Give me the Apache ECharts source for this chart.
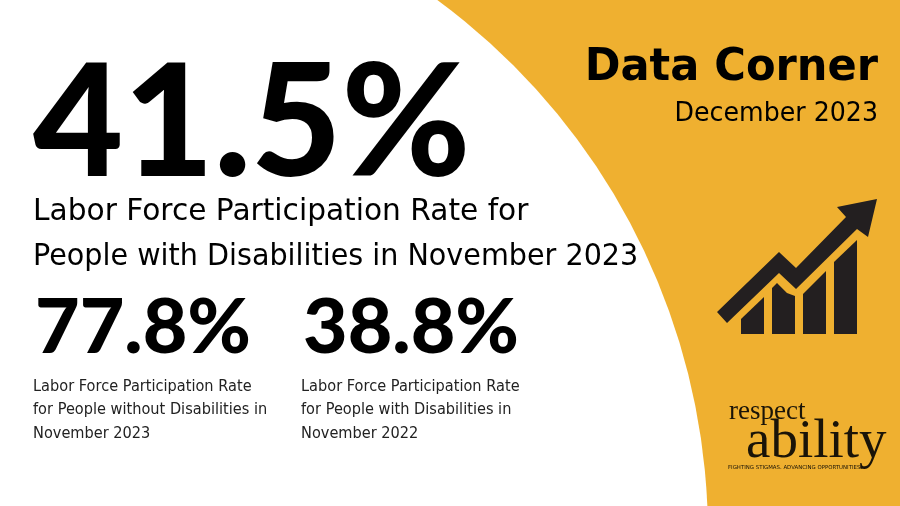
<!DOCTYPE html>
<html lang="en">
<head>
    <meta charset="UTF-8">
    <title>Data Corner December 2023</title>
    <script src="https://cdn.jsdelivr.net/npm/echarts@6/dist/echarts.min.js"></script>
    <style>
        html, body { margin: 0; padding: 0; background: #fff; }
    </style>
</head>
<body>
<div id="my" style="width: 900px;height: 506px;"></div>
<script>
    // values
    var headline = '41.5%'
    var headlineLabel = ['Labor Force Participation Rate for', 'People with Disabilities in November 2023']
    var statValues = ['77.8%', '38.8%']
    var statLabels = [
        ['Labor Force Participation Rate', 'for People without Disabilities in', 'November 2023'],
        ['Labor Force Participation Rate', 'for People with Disabilities in', 'November 2022']
    ]
    var cornerTitle = 'Data Corner'
    var cornerDate = 'December 2023'

    var FONT = '"DejaVu Sans"'
    var NUM_FONT = 'Lato'
    var SERIF = '"Liberation Serif"'
    var YELLOW = '#EFB030'
    var ICON = '#231F20'
    var LOGO = '#1a1408'

    function txt(s, x, y, size, opt) {
        opt = opt || {}
        return {
            type: 'text',
            x: x,
            y: y,
            scaleX: opt.sx || 1,
            style: {
                text: s,
                fontFamily: opt.font || FONT,
                fontSize: size,
                fontWeight: opt.weight || 'normal',
                fill: opt.color || '#000',
                align: opt.align || 'left',
                verticalAlign: 'middle'
            }
        }
    }
    function poly(points) {
        return { type: 'polygon', shape: { points: points }, style: { fill: ICON } }
    }

    var els = [
        { type: 'rect', shape: { x: 0, y: 0, width: 900, height: 506 }, style: { fill: YELLOW } },
        { type: 'circle', shape: { cx: 44, cy: 535, r: 664 }, style: { fill: '#fff' } }
    ]

    // big numbers and their labels
    els.push(txt(headline, 33, 125.5, 156, { font: NUM_FONT, weight: 900 }))
    els.push(txt(headlineLabel[0], 33, 212, 30, { sx: 0.988 }))
    els.push(txt(headlineLabel[1], 33, 257, 30, { sx: 0.954 }))
    var statX = [33, 301]
    var statNumX = [35, 303]
    statValues.forEach(function (v, i) {
        els.push(txt(v, statNumX[i], 328, 77, { font: NUM_FONT, weight: 900 }))
        statLabels[i].forEach(function (line, j) {
            els.push(txt(line, statX[i], 387 + j * 23.5, 15, { color: '#222', sx: 0.97 }))
        })
    })

    // right corner
    els.push(txt(cornerTitle, 878, 69, 44, { weight: 'bold', align: 'right', sx: 0.98 }))
    els.push(txt(cornerDate, 878, 114, 26, { align: 'right', sx: 0.972 }))

    // arrow icon
    els.push(poly([[717, 312], [727, 323], [779, 273], [796, 289], [857, 229], [868, 237], [877, 199], [837, 207], [846, 217], [796, 268], [779, 252]]))
    els.push(poly([[741, 319], [764, 297], [764, 334], [741, 334]]))
    els.push(poly([[772, 288], [777, 283], [787, 293], [795, 296], [795, 334], [772, 334]]))
    els.push(poly([[803, 294], [826, 271], [826, 334], [803, 334]]))
    els.push(poly([[834, 262], [857, 240], [857, 334], [834, 334]]))

    // logo
    els.push(txt('respect', 729, 412, 27, { font: SERIF, color: LOGO }))
    els.push(txt('ability', 746, 443, 55, { font: SERIF, color: LOGO }))
    els.push(txt('FIGHTING STIGMAS. ADVANCING OPPORTUNITIES.', 728, 468, 5.4, { color: LOGO }))

    var mCharts = echarts.init(document.getElementById('my'), null, { renderer: 'canvas' })
    var option = {
        animation: false,
        graphic: { elements: els }
    }
    mCharts.setOption(option)
</script>
</body>
</html>
